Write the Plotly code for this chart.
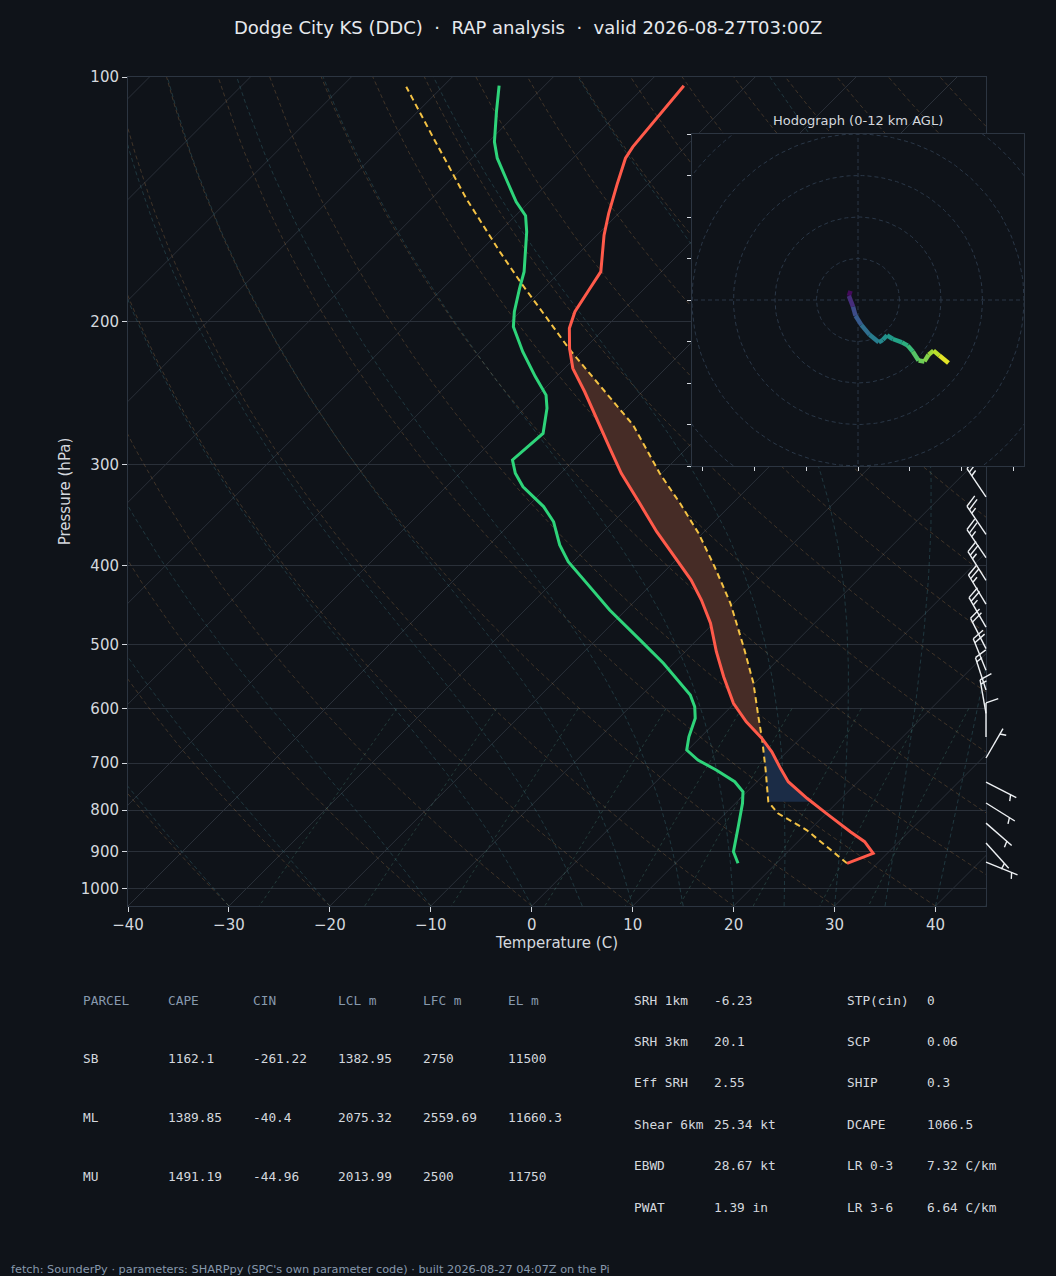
import numpy as np
import plotly.graph_objects as go
from plotly.colors import sample_colorscale

W, H = 1056, 1276
BG = "#0f1319"
GRID = "#2a3039"
SPINE = "#2c3541"
TXT = "#d4d8de"
MUTED = "#8799ad"

# sounding, surface first (hPa, degC)
temp_p = [930.2, 904.2, 874.9, 850.5, 807.3, 781.0, 773.6, 738.1, 710.6, 677.9,
          652.7, 622.6, 590.9, 548.0, 510.5, 470.9, 440.9, 416.6, 393.5, 363.2,
          335.1, 307.7, 286.7, 263.3, 244.2, 228.5, 215.9, 204.0, 194.6, 183.9,
          173.7, 156.6, 147.2, 135.8, 125.9, 121.9, 111.9, 102.5]
temp_t = [27.0, 28.6, 26.6, 24.2, 20.0, 17.4, 16.6, 13.1, 11.0, 8.5,
          6.2, 3.0, -0.1, -3.7, -6.9, -10.3, -13.5, -16.5, -19.9, -24.7,
          -29.2, -34.0, -37.6, -41.9, -45.7, -49.2, -51.5, -53.5, -54.6, -55.3,
          -56.0, -59.3, -61.0, -63.0, -64.8, -65.2, -65.7, -66.2]

dwpt_p = [930.2, 900.1, 838.5, 784.6, 759.2, 738.1, 714.0, 694.0, 674.6, 649.7,
          616.6, 596.6, 577.1, 561.0, 527.5, 493.9, 453.6, 420.5, 395.4, 377.1,
          353.1, 338.2, 319.7, 307.7, 296.3, 274.8, 255.9, 246.5, 233.9, 218.0,
          203.1, 194.6, 182.1, 173.7, 155.1, 148.2, 142.5, 134.5, 125.9, 120.2,
          110.3, 102.5]
dwpt_t = [16.2, 14.6, 12.6, 10.7, 9.6, 7.8, 4.8, 2.0, -0.1, -1.2,
          -2.4, -3.6, -5.2, -7.0, -11.0, -15.6, -21.6, -26.5, -30.5, -33.0,
          -35.9, -38.4, -42.4, -44.5, -46.1, -45.7, -47.8, -49.2, -52.1, -55.8,
          -59.2, -60.6, -62.4, -63.6, -67.3, -69.0, -71.3, -74.2, -77.5, -79.4,
          -82.2, -84.5]

parcel_p = [930.2, 846.5, 807.3, 781.1, 714.0, 655.9, 613.8, 558.3, 503.3, 445.0,
            401.1, 364.8, 335.1, 307.7, 268.4, 239.6, 216.9, 198.3, 179.6, 164.1,
            141.1, 118.5, 102.8]
parcel_t = [27.0, 19.7, 15.2, 13.1, 9.7, 6.4, 3.7, -0.1, -4.7, -10.3,
            -15.5, -20.4, -25.2, -30.2, -37.6, -44.9, -51.3, -56.7, -62.7, -68.0,
            -76.6, -86.0, -93.6]

P_LCL, P_LFC, P_EL = 782, 652, 216

# wind barbs (hPa, direction from, knots)
barb_p = [329, 366, 391, 417, 446, 476, 506, 538, 569, 608, 650, 690, 739, 784, 830, 878, 927]
barb_dir = [326, 326, 326, 328, 329, 330, 333, 338, 342, 350, 0, 30, 117, 122, 131, 138, 112]
barb_kt = [25, 25, 25, 25, 25, 25, 20, 20, 15, 15, 10, 5, 5, 5, 5, 5, 5]

# hodograph (u, v) and height km
hodo_u = [-1.8, -2.2, -1.2, -0.6, 0.8, 2.8, 5.0, 6.0, 7.0, 8.4, 10.6, 12.0, 13.2, 14.6, 16.0, 17.0, 18.2, 19.6, 21.8]
hodo_v = [2.2, 1.0, -1.6, -3.8, -6.0, -8.4, -10.2, -9.6, -8.5, -9.4, -10.2, -11.0, -12.4, -14.6, -14.8, -13.2, -12.2, -13.4, -15.2]
hodo_z = [0.0, 0.6, 2.5, 3.0, 3.8, 4.8, 5.3, 5.8, 6.1, 6.6, 7.2, 7.8, 8.4, 9.1, 9.5, 9.9, 10.5, 11.0, 12.0]
hodo_rings = [10, 20, 30, 40, 50, 60]

pressure_ticks = [100, 200, 300, 400, 500, 600, 700, 800, 900, 1000]
temp_ticks = [-40, -30, -20, -10, 0, 10, 20, 30, 40]

# parameter table
tbl_head = ["PARCEL", "CAPE", "CIN", "LCL m", "LFC m", "EL m"]
tbl_parcel = ["SB", "ML", "MU"]
tbl_cape = [1162.1, 1389.85, 1491.19]
tbl_cin = [-261.22, -40.4, -44.96]
tbl_lcl = [1382.95, 2075.32, 2013.99]
tbl_lfc = [2750, 2559.69, 2500]
tbl_el = [11500, 11660.3, 11750]

kin_names = ["SRH 1km", "SRH 3km", "Eff SRH", "Shear 6km", "EBWD", "PWAT"]
kin_vals = ["-6.23", "20.1", "2.55", "25.34 kt", "28.67 kt", "1.39 in"]
idx_names = ["STP(cin)", "SCP", "SHIP", "DCAPE", "LR 0-3", "LR 3-6"]
idx_vals = ["0", "0.06", "0.3", "1066.5", "7.32 C/km", "6.64 C/km"]

# ---- geometry ----
P_BOT, P_TOP = 1050, 100
T_MIN, T_MAX = -40, 45
ML, MR, MT, MB = 128, 986, 77, 906
px_per_deg = (MR - ML) / (T_MAX - T_MIN)
px_per_dec = (MB - MT) / (np.log10(P_BOT) - np.log10(P_TOP))
SKEW = px_per_dec / px_per_deg  # 45 degree skew


def fx(x):
    return x / W


def fy(y):
    return 1 - y / H


def skew_x(t, p):
    return np.asarray(t, float) + SKEW * (np.log10(P_BOT) - np.log10(np.asarray(p, float)))


def joined(lines):
    xs, ys = [], []
    for t, p in lines:
        xs += list(skew_x(t, p)) + [None]
        ys += list(p) + [None]
    return xs, ys


fig = go.Figure()

# background lines
p_full = np.linspace(P_BOT, P_TOP, 120)
iso = [(np.full(2, t), np.array([P_BOT, P_TOP])) for t in range(-130, 50, 10)]
xs, ys = joined(iso)
fig.add_trace(go.Scatter(x=xs, y=ys, mode="lines", line=dict(color=GRID, width=1), hoverinfo="skip"))

dry = [((t0 + 273.15) * (p_full / P_BOT) ** 0.2857 - 273.15, p_full) for t0 in range(-40, 246, 10)]
xs, ys = joined(dry)
fig.add_trace(go.Scatter(x=xs, y=ys, mode="lines", hoverinfo="skip",
                         line=dict(color="rgba(190,135,80,0.28)", width=1, dash="4px,3px")))


def moist_lapse(t0, p):
    Rd, Cp, Lv, eps = 287.04, 1005.7, 2.501e6, 0.622

    def dtdp(T, pp):
        es = 6.112 * np.exp(17.67 * (T - 273.15) / (T - 29.65))
        rs = eps * es / (pp - es)
        return (Rd * T + Lv * rs) / (Cp + Lv ** 2 * rs * eps / (Rd * T ** 2)) / pp

    T = np.asarray(t0, float) + 273.15
    out = [T]
    for a, b in zip(p[:-1], p[1:]):
        h = b - a
        k1 = dtdp(T, a)
        k2 = dtdp(T + h / 2 * k1, a + h / 2)
        k3 = dtdp(T + h / 2 * k2, a + h / 2)
        k4 = dtdp(T + h * k3, b)
        T = T + h / 6 * (k1 + 2 * k2 + 2 * k3 + k4)
        out.append(T)
    return np.array(out).T - 273.15


moist_t0 = list(range(-40, 0, 10)) + list(range(0, 46, 5))
moist = moist_lapse(moist_t0, p_full)
xs, ys = joined([(row, p_full) for row in moist])
fig.add_trace(go.Scatter(x=xs, y=ys, mode="lines", hoverinfo="skip",
                         line=dict(color="rgba(80,165,175,0.25)", width=1, dash="4px,3px")))

p_mix = np.linspace(600, P_BOT, 30)
mix = []
for w in [0.0004, 0.001, 0.002, 0.004, 0.007, 0.01, 0.016, 0.024, 0.032]:
    e = p_mix * w / (0.622 + w)
    lg = np.log(e / 6.112)
    mix.append((243.5 * lg / (17.67 - lg), p_mix))
xs, ys = joined(mix)
fig.add_trace(go.Scatter(x=xs, y=ys, mode="lines", hoverinfo="skip",
                         line=dict(color="rgba(90,175,150,0.25)", width=1, dash="3px,3px")))

# CAPE / CIN shading
tp, tt = np.array(temp_p), np.array(temp_t)
pp, pt = np.array(parcel_p), np.array(parcel_t)

m_env = (tp >= P_EL) & (tp <= P_LFC + 4)
m_par = (pp >= P_EL) & (pp <= P_LFC + 4)
cape_t = np.concatenate([tt[m_env], pt[m_par][::-1]])
cape_p = np.concatenate([tp[m_env], pp[m_par][::-1]])
fig.add_trace(go.Scatter(x=skew_x(cape_t, cape_p), y=cape_p, mode="lines", fill="toself",
                         fillcolor="#462c26", line=dict(width=0), hoverinfo="skip"))

m_env = (tp >= P_LFC) & (tp <= P_LCL)
m_par = (pp >= P_LFC) & (pp <= P_LCL)
cin_t = np.concatenate([tt[m_env], pt[m_par][::-1]])
cin_p = np.concatenate([tp[m_env], pp[m_par][::-1]])
fig.add_trace(go.Scatter(x=skew_x(cin_t, cin_p), y=cin_p, mode="lines", fill="toself",
                         fillcolor="#1b2c46", line=dict(width=0), hoverinfo="skip"))

# profiles
fig.add_trace(go.Scatter(x=skew_x(parcel_t, parcel_p), y=parcel_p, mode="lines",
                         line=dict(color="#f4c244", width=2, dash="6px,4px")))
fig.add_trace(go.Scatter(x=skew_x(temp_t, temp_p), y=temp_p, mode="lines",
                         line=dict(color="#ff5a4a", width=3)))
fig.add_trace(go.Scatter(x=skew_x(dwpt_t, dwpt_p), y=dwpt_p, mode="lines",
                         line=dict(color="#2ed47a", width=3)))

# wind barbs (pixel units on x2, pressure on y2 which mirrors y)
L = 34.0
f_len, f_w, f_sp = 0.36 * L, 0.25 * L, 0.125 * L
bx, by = [], []
for p, d, s in zip(barb_p, barb_dir, barb_kt):
    a = np.radians(d)
    ux, uy = np.sin(a), -np.cos(a)
    sx, sy = np.cos(a), np.sin(a)

    def pt_(dist, side):
        return dist * ux + side * sx, dist * uy + side * sy

    segs = [[(0.0, 0.0), pt_(L, 0)]]
    n_full, rest = divmod(int(round(s)), 10)
    off = L
    for i in range(n_full):
        segs.append([pt_(off, 0), pt_(off + f_w / 2, f_len)])
        off -= f_sp
    if rest >= 5:
        if n_full == 0:
            off -= 1.5 * f_sp
        segs.append([pt_(off, 0), pt_(off + f_w / 4, f_len / 2)])
    for seg in segs:
        for dx, dy in seg:
            bx.append(dx)
            by.append(p * 10 ** (dy / px_per_dec))
        bx.append(None)
        by.append(None)
fig.add_trace(go.Scatter(x=bx, y=by, xaxis="x2", yaxis="y2", mode="lines",
                         line=dict(color="#eef1f4", width=1.4), hoverinfo="skip"))

# hodograph
HODO = 40
ang = np.linspace(0, 2 * np.pi, 181)
rx, ry = [], []
for r in hodo_rings:
    rx += list(r * np.cos(ang)) + [None]
    ry += list(r * np.sin(ang)) + [None]
rx += [-HODO * 2, HODO * 2, None, 0, 0]
ry += [0, 0, None, -HODO * 2, HODO * 2]
fig.add_trace(go.Scatter(x=rx, y=ry, xaxis="x3", yaxis="y3", mode="lines", hoverinfo="skip",
                         line=dict(color="#2a3747", width=1, dash="4px,3px")))
zmax = max(hodo_z)
for i in range(len(hodo_u) - 1):
    c = sample_colorscale("Viridis", [(hodo_z[i] + hodo_z[i + 1]) / 2 / zmax])[0]
    fig.add_trace(go.Scatter(x=hodo_u[i:i + 2], y=hodo_v[i:i + 2], xaxis="x3", yaxis="y3",
                             mode="lines", line=dict(color=c, width=4.5)))

fig.add_shape(type="rect", xref="x3", yref="y3", x0=-HODO, x1=HODO, y0=-HODO, y1=HODO,
              fillcolor=BG, line=dict(width=0), layer="below")

# text
ann = [dict(text="Dodge City KS (DDC)  ·  RAP analysis  ·  valid 2026-08-27T03:00Z",
            x=0.5, y=fy(27), font=dict(size=18, color="#e6e9ee")),
       dict(text="Hodograph (0-12 km AGL)", x=fx(858), y=fy(120), font=dict(size=13, color=TXT)),
       dict(text="fetch: SounderPy · parameters: SHARPpy (SPC's own parameter code) · built 2026-08-27 04:07Z on the Pi",
            x=fx(9), y=fy(1269), xanchor="left", font=dict(size=11.3, color=MUTED))]

mono = "DejaVu Sans Mono"
MONO_SIZE = 12.8
col_x = [81, 166, 251, 336, 421, 506]
row_y = [1000, 1058.4, 1117.2, 1176]
for cx, h in zip(col_x, tbl_head):
    ann.append(dict(text=h, x=fx(cx), y=fy(row_y[0]), xanchor="left",
                    font=dict(family=mono, size=MONO_SIZE, color=MUTED)))
for r, row in enumerate(zip(tbl_parcel, tbl_cape, tbl_cin, tbl_lcl, tbl_lfc, tbl_el)):
    for cx, v in zip(col_x, row):
        ann.append(dict(text=str(v), x=fx(cx), y=fy(row_y[r + 1]), xanchor="left",
                        font=dict(family=mono, size=MONO_SIZE, color=TXT)))
for i in range(len(kin_names)):
    yy = fy(1000 + 41.45 * i)
    for cx, txt in [(632, kin_names[i]), (712, kin_vals[i]), (845, idx_names[i]), (925, idx_vals[i])]:
        ann.append(dict(text=txt, x=fx(cx), y=yy, xanchor="left",
                        font=dict(family=mono, size=MONO_SIZE, color=TXT)))
for a in ann:
    a.update(xref="paper", yref="paper", showarrow=False, yanchor=a.get("yanchor", "middle"))
    a.setdefault("xanchor", "center")

tick_font = dict(family="DejaVu Sans", size=15, color=TXT)
p_range = [np.log10(P_BOT), np.log10(P_TOP)]
fig.update_layout(
    width=W, height=H, margin=dict(l=0, r=0, t=0, b=0, autoexpand=False),
    paper_bgcolor=BG, plot_bgcolor="rgba(0,0,0,0)",
    showlegend=False, annotations=ann,
    font=dict(family="DejaVu Sans", color=TXT),
    xaxis=dict(domain=[fx(ML), fx(MR)], range=[T_MIN, T_MAX], tickvals=temp_ticks,
               showgrid=False, zeroline=False, showline=True, mirror=True, linecolor=SPINE,
               ticks="outside", ticklen=5, tickcolor=TXT, tickfont=tick_font,
               title=dict(text="Temperature (C)", font=tick_font, standoff=4)),
    yaxis=dict(domain=[fy(MB), fy(MT)], type="log", range=p_range,
               tickvals=pressure_ticks, ticktext=[str(v) for v in pressure_ticks],
               showgrid=True, gridcolor=GRID, gridwidth=1, zeroline=False,
               showline=True, mirror=True, linecolor=SPINE,
               ticks="outside", ticklen=5, tickcolor=TXT, tickfont=tick_font,
               title=dict(text="Pressure (hPa)", font=tick_font, standoff=6)),
    xaxis2=dict(domain=[fx(930), fx(1040)], range=[930 - MR, 1040 - MR], anchor="y2", visible=False),
    yaxis2=dict(domain=[fy(MB), fy(MT)], type="log", range=p_range, anchor="x2", visible=False),
    xaxis3=dict(domain=[fx(692), fx(1024)], range=[-HODO, HODO], anchor="y3",
                tickvals=[-37.5, -25, -12.5, 0, 12.5, 25, 37.5], showticklabels=False,
                ticks="outside", ticklen=4, tickcolor=TXT, showgrid=False, zeroline=False,
                showline=True, mirror=True, linecolor=SPINE),
    yaxis3=dict(domain=[fy(466), fy(134)], range=[-HODO, HODO], anchor="x3",
                tickvals=list(range(-40, 41, 10)), showticklabels=False,
                ticks="outside", ticklen=4, tickcolor=TXT, showgrid=False, zeroline=False,
                showline=True, mirror=True, linecolor=SPINE),
)

fig.write_html("out.html", config={"displayModeBar": False},
               post_script="document.body.style.margin='0px';")
